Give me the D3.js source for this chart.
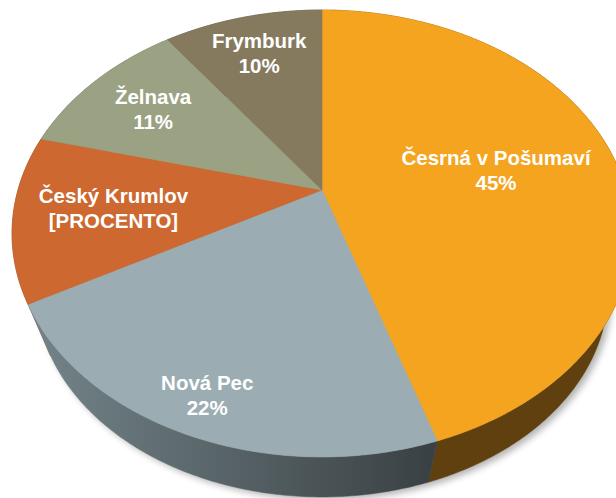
<!DOCTYPE html>
<html><head><meta charset="utf-8">
<script src="https://cdn.jsdelivr.net/npm/d3@7"></script>
<style>html,body{margin:0;padding:0;background:#fff;overflow:hidden}</style>
</head><body>
<svg id="chart" width="616" height="498"></svg>
<script>
// ---- data ----
const categories = ["Česrná v Pošumaví", "Nová Pec", "Český Krumlov", "Želnava", "Frymburk"];
const values = [45, 22, 12, 11, 10];
const valueLabels = ["45%", "22%", "[PROCENTO]", "11%", "10%"];

// ---- layout / style ----
const topColors  = ["#F5A41F", "#9BADB2", "#CC6830", "#9BA283", "#857A5E"];
const wallColors = ["#60400E", "url(#novaWall)", "#7A3B18", "#5C614D", "#4F4837"];
const labelRadius = [0.59, 0.865, 0.68, 0.725, 0.763];

const W = 616, H = 498;
const cx = 322, cy = 190;       // projected pie centre
const ax = 304, by = 215;       // projection scales
const persp = 0.1946;           // perspective strength
const vpY = 975;                // vertical vanishing point (screen y)
const depthK = 0.0772;          // wall thickness as fraction towards vanishing point

const svg = d3.select("#chart");
const defs = svg.append("defs");
const g1 = defs.append("linearGradient").attr("id", "novaWall")
  .attr("gradientUnits", "userSpaceOnUse").attr("x1", 25).attr("y1", 0).attr("x2", 430).attr("y2", 0);
g1.append("stop").attr("offset", "0%").attr("stop-color", "#74858A");
g1.append("stop").attr("offset", "100%").attr("stop-color", "#3A4144");
const blur = defs.append("filter").attr("id", "shadow").attr("x", "-20%").attr("y", "-20%").attr("width", "140%").attr("height", "140%");
blur.append("feGaussianBlur").attr("stdDeviation", 3.5);

const rScale = d3.scaleLinear().domain([0, 1]).range([0, 1]);

function proj(theta, r, drop) {
  const u = rScale(r) * Math.sin(theta), v = rScale(r) * Math.cos(theta);
  const w = 1 + persp * v;
  const x = cx + ax * u / w, y = cy - by * v / w;
  if (!drop) return [x, y];
  return [x + (cx - x) * depthK, y + (vpY - y) * depthK];
}
function rim(a0, a1, drop) {
  const n = Math.max(2, Math.ceil((a1 - a0) / 0.01));
  return d3.range(n + 1).map(i => proj(a0 + (a1 - a0) * i / n, 1, drop));
}
const line = d3.line();

const arcs = d3.pie().sort(null).value(d => d)(values);

// shadow
svg.append("path")
  .attr("d", line(rim(0, 2 * Math.PI, true)) + "Z")
  .attr("transform", "translate(4,3)")
  .attr("fill", "#000").attr("opacity", 0.3)
  .attr("filter", "url(#shadow)");

// walls (back to front)
const wallOrder = arcs.map((d, i) => i).sort((a, b) => {
  const ma = (arcs[a].startAngle + arcs[a].endAngle) / 2, mb = (arcs[b].startAngle + arcs[b].endAngle) / 2;
  return Math.cos(mb) - Math.cos(ma);
});
svg.append("g").selectAll("path").data(wallOrder).join("path")
  .attr("d", i => {
    const a = arcs[i];
    const top = rim(a.startAngle, a.endAngle, false);
    const bot = rim(a.startAngle, a.endAngle, true).reverse();
    return line(top.concat(bot)) + "Z";
  })
  .attr("fill", i => wallColors[i])
  .attr("stroke", i => wallColors[i]).attr("stroke-width", 0.5);

// tops
svg.append("g").selectAll("path").data(arcs).join("path")
  .attr("d", a => line([[cx, cy]].concat(rim(a.startAngle, a.endAngle, false))) + "Z")
  .attr("fill", (a, i) => topColors[i])
  .attr("stroke", (a, i) => topColors[i]).attr("stroke-width", 0.6);

// labels
const lg = svg.append("g")
  .attr("font-family", "'Liberation Sans', Arial, sans-serif")
  .attr("font-weight", "bold").attr("font-size", "20.5px")
  .attr("fill", "#fff").attr("text-anchor", "middle");
arcs.forEach((a, i) => {
  const mid = (a.startAngle + a.endAngle) / 2;
  const [x, y] = proj(mid, labelRadius[i], false);
  const t = lg.append("text").attr("x", x).attr("y", y - 5.2);
  t.append("tspan").attr("x", x).text(categories[i]);
  t.append("tspan").attr("x", x).attr("dy", 25).text(valueLabels[i]);
});
</script>
</body></html>
